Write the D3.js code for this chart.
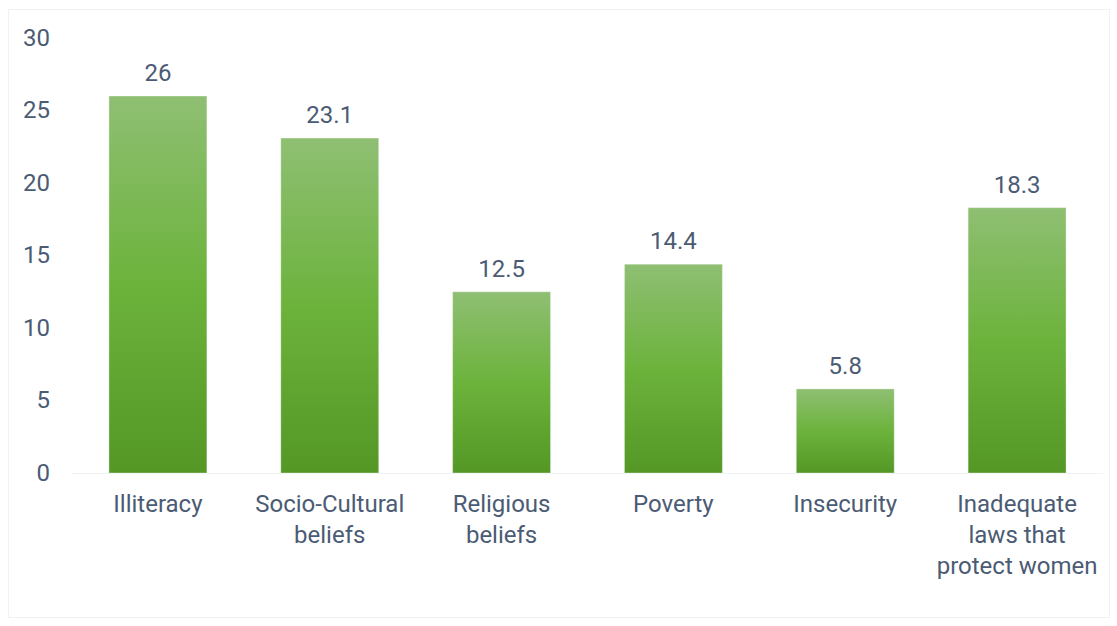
<!DOCTYPE html>
<html>
<head>
<meta charset="utf-8">
<script src="https://cdn.jsdelivr.net/npm/d3@7"></script>
<style>
  body { margin: 0; background: #fff; }
  svg text { font-family: Roboto, "Noto Sans", sans-serif; fill: #4b5b74; }
</style>
</head>
<body>
<svg id="chart"></svg>
<script>
const categories = [
    ["Illiteracy"],
    ["Socio-Cultural", "beliefs"],
    ["Religious", "beliefs"],
    ["Poverty"],
    ["Insecurity"],
    ["Inadequate", "laws that", "protect women"],
];
const values = [26, 23.1, 12.5, 14.4, 5.8, 18.3];
const yTicks = [0, 5, 10, 15, 20, 25, 30];

const width = 1117,
    height = 626;
const margin = { top: 38, right: 14, bottom: 153, left: 72 };
const fontSize = "24px";

let svg = d3.select("svg#chart").attr("width", width).attr("height", height);

// faint frame
svg.append("rect")
    .attr("x", 8.5)
    .attr("y", 9.5)
    .attr("width", 1101)
    .attr("height", 608)
    .attr("fill", "none")
    .attr("stroke", "#f2f2f2");

let x = d3
    .scaleBand()
    .domain(d3.range(categories.length))
    .range([margin.left, width - margin.right])
    .paddingInner(0.43)
    .paddingOuter(0.215);

let y = d3
    .scaleLinear()
    .domain([0, 30])
    .range([height - margin.bottom, margin.top]);

let defs = svg.append("defs");
let grad = defs
    .append("linearGradient")
    .attr("id", "barGrad")
    .attr("x1", 0)
    .attr("y1", 0)
    .attr("x2", 0)
    .attr("y2", 1);
grad.append("stop").attr("offset", "0%").attr("stop-color", "#8fbf73");
grad.append("stop").attr("offset", "50%").attr("stop-color", "#6cb33c");
grad.append("stop").attr("offset", "100%").attr("stop-color", "#549725");

// baseline
svg.append("line")
    .attr("x1", margin.left)
    .attr("x2", width - margin.right)
    .attr("y1", y(0) + 0.5)
    .attr("y2", y(0) + 0.5)
    .attr("stroke", "#f0f3f5");

// y axis labels
let yAxis = d3.axisLeft(y).tickValues(yTicks).tickSize(0).tickPadding(0);
let gy = svg.append("g").attr("transform", "translate(50,0)").call(yAxis);
gy.select(".domain").remove();
gy.selectAll("text")
    .style("font-size", fontSize)
    .style("font-family", "Roboto, sans-serif")
    .style("fill", "#4b5b74")
    .attr("dy", "0.3em");

// bars
svg.selectAll(".bar")
    .data(values)
    .enter()
    .append("rect")
    .classed("bar", true)
    .attr("x", (d, i) => x(i))
    .attr("width", x.bandwidth())
    .attr("y", (d) => y(d))
    .attr("height", (d) => y(0) - y(d))
    .attr("fill", "url(#barGrad)")
    .attr("stroke", "rgba(255,255,255,0.35)")
    .attr("stroke-width", 1);

// value labels
svg.selectAll(".val")
    .data(values)
    .enter()
    .append("text")
    .classed("val", true)
    .attr("x", (d, i) => x(i) + x.bandwidth() / 2)
    .attr("y", (d) => y(d) - 15)
    .attr("text-anchor", "middle")
    .style("font-size", fontSize)
    .text((d) => d);

// category labels
let cat = svg.selectAll(".cat")
    .data(categories)
    .enter()
    .append("text")
    .classed("cat", true)
    .attr("text-anchor", "middle")
    .attr("transform", (d, i) => `translate(${x(i) + x.bandwidth() / 2},${y(0) + 39})`)
    .style("font-size", fontSize);
cat.selectAll("tspan")
    .data((d) => d)
    .enter()
    .append("tspan")
    .attr("x", 0)
    .attr("dy", (d, i) => (i === 0 ? 0 : 31))
    .text((d) => d);
</script>
</body>
</html>
